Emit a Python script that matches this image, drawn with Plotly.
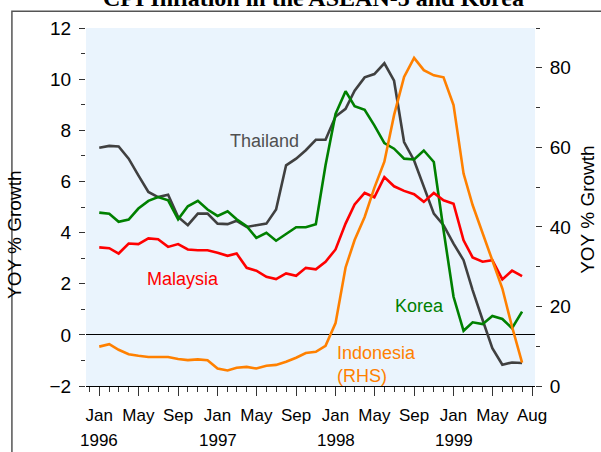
import pandas as pd
import plotly.graph_objects as go

months = pd.date_range("1996-01-01", "1999-08-01", freq="MS")

thailand = [7.32, 7.39, 7.37, 6.89, 6.24, 5.59, 5.39, 5.48, 4.61, 4.29, 4.74, 4.74,
            4.35, 4.33, 4.46, 4.22, 4.29, 4.35, 4.90, 6.63, 6.89, 7.22, 7.63, 7.63,
            8.54, 8.84, 9.55, 10.07, 10.20, 10.62, 9.94, 7.54, 6.82, 5.78, 4.74, 4.29,
            3.57, 2.92, 1.75, 0.58, -0.52, -1.17, -1.08, -1.10]
korea = [4.78, 4.74, 4.42, 4.51, 4.94, 5.24, 5.39, 5.26, 4.52, 5.03, 5.24, 4.90,
         4.65, 4.83, 4.52, 4.25, 3.79, 3.99, 3.68, 3.94, 4.21, 4.21, 4.33, 6.63,
         8.64, 9.53, 8.94, 8.80, 8.19, 7.50, 7.28, 6.89, 6.86, 7.21, 6.76, 4.10,
         1.49, 0.16, 0.49, 0.42, 0.74, 0.62, 0.26, 0.91]
malaysia = [3.42, 3.39, 3.18, 3.57, 3.55, 3.77, 3.74, 3.44, 3.55, 3.34, 3.31, 3.31,
            3.21, 3.09, 3.18, 2.62, 2.51, 2.27, 2.18, 2.40, 2.31, 2.62, 2.56, 2.86,
            3.34, 4.35, 5.10, 5.55, 5.38, 6.17, 5.81, 5.63, 5.50, 5.20, 5.55, 5.26,
            5.13, 3.70, 3.03, 2.86, 2.92, 2.17, 2.51, 2.30]
# Indonesia is read against the right-hand axis
indonesia = [9.9, 10.5, 9.1, 8.0, 7.6, 7.3, 7.3, 7.3, 6.8, 6.5, 6.7, 6.5,
             4.4, 3.9, 4.6, 4.8, 4.4, 5.1, 5.3, 6.1, 7.1, 8.3, 8.6, 10.1,
             15.8, 29.8, 36.7, 42.5, 49.8, 56.4, 68.1, 77.7, 82.5, 79.4, 78.1, 77.6,
             70.6, 53.4, 45.5, 38.4, 31.7, 24.5, 14.9, 5.9]

tick_dates = ["1996-01-01", "1996-05-01", "1996-09-01", "1997-01-01", "1997-05-01",
              "1997-09-01", "1998-01-01", "1998-05-01", "1998-09-01", "1999-01-01",
              "1999-05-01", "1999-09-01"]
tick_months = ["Jan", "May", "Sep", "Jan", "May", "Sep", "Jan", "May", "Sep", "Jan",
               "May", "Aug"]
year_dates = ["1996-01-01", "1997-01-01", "1998-01-01", "1999-01-01"]
year_labels = ["1996", "1997", "1998", "1999"]

FONT = "Liberation Sans, Arial, sans-serif"
fig = go.Figure()
series = [
    ("Thailand", thailand, "#404040", "y"),
    ("Korea", korea, "#008000", "y"),
    ("Malaysia", malaysia, "#ff0000", "y"),
    ("Indonesia", indonesia, "#ff8000", "y2"),
]
for name, vals, color, axis in series:
    fig.add_trace(go.Scatter(x=months, y=vals, mode="lines", name=name, yaxis=axis,
                             line={"color": color, "width": 2.6}))

fig.update_layout(
    width=601, height=452,
    margin={"l": 86, "r": 66, "t": 28, "b": 66},
    plot_bgcolor="#eaf4fd", paper_bgcolor="white",
    showlegend=False,
    font={"family": FONT, "color": "black"},
    xaxis={
        "type": "date", "range": ["1995-11-21", "1999-09-10"],
        "tickmode": "array", "tickvals": tick_dates, "ticktext": tick_months,
        "ticks": "outside", "ticklen": 9, "tickcolor": "#333",
        "minor": {"dtick": "M1", "tick0": "1996-01-01", "ticks": "outside",
                  "ticklen": 5, "tickcolor": "#333", "showgrid": False},
        "showline": True, "linecolor": "black", "linewidth": 1,
        "showgrid": False, "zeroline": False,
        "tickfont": {"size": 17}, "ticklabelstandoff": 5,
    },
    yaxis={
        "range": [-2, 12], "tickvals": list(range(-2, 13, 2)),
        "ticks": "outside", "ticklen": 6, "tickcolor": "#333",
        "minor": {"tickvals": list(range(-1, 12, 2)), "ticks": "outside",
                  "ticklen": 4, "tickcolor": "#333", "showgrid": False},
        "showgrid": False, "showline": False,
        "zeroline": True, "zerolinecolor": "black", "zerolinewidth": 1,
        "tickfont": {"size": 19}, "ticklabelstandoff": 4,
    },
    yaxis2={
        "range": [0, 90], "overlaying": "y", "side": "right",
        "tickvals": [0, 20, 40, 60, 80],
        "ticks": "outside", "ticklen": 6, "tickcolor": "#333",
        "minor": {"tickvals": [10, 30, 50, 70, 90], "ticks": "outside",
                  "ticklen": 4, "tickcolor": "#333", "showgrid": False},
        "showgrid": False, "showline": False, "zeroline": False,
        "tickfont": {"size": 19}, "ticklabelstandoff": 4,
    },
)

for d, lab in zip(year_dates, year_labels):
    fig.add_annotation(x=d, y=-0.152, xref="x", yref="paper", text=lab, showarrow=False,
                       xanchor="center", yanchor="middle", font={"size": 17})

labels = [
    ("Thailand", "1997-05-27", 7.6, "#505050", "center"),
    ("Malaysia", "1996-09-17", 2.18, "#ff0000", "center"),
    ("Korea", "1998-09-19", 1.13, "#008000", "center"),
    ("Indonesia<br>(RHS)", "1997-12-31", -1.17, "#ff8000", "left"),
]
for text, xd, yv, color, align in labels:
    fig.add_annotation(x=xd, y=yv, xref="x", yref="y", text=text, showarrow=False,
                       xanchor=align, yanchor="middle", align="left",
                       font={"size": 18, "color": color})

fig.add_annotation(x=-0.158, y=0.422, xref="paper", yref="paper", text="YOY % Growth",
                   textangle=-90, showarrow=False, xanchor="center", yanchor="middle",
                   font={"size": 19})
fig.add_annotation(x=1.118, y=0.492, xref="paper", yref="paper", text="YOY % Growth",
                   textangle=-90, showarrow=False, xanchor="center", yanchor="middle",
                   font={"size": 19})

fig.add_annotation(x=0.506, y=1.084, xref="paper", yref="paper",
                   text="<b>CPI Inflation in the ASEAN-5 and Korea</b>", showarrow=False,
                   xanchor="center", yanchor="middle",
                   font={"size": 24, "family": "Liberation Serif, Times New Roman, serif"})

fig.add_shape(type="rect", xref="paper", yref="paper", x0=-0.165, x1=1.2, y0=-0.25, y1=1.047,
              line={"color": "#555", "width": 1.5}, fillcolor="rgba(0,0,0,0)")

fig.write_html("out.html", config={"displayModeBar": False},
               post_script="document.body.style.margin = '0px';")
